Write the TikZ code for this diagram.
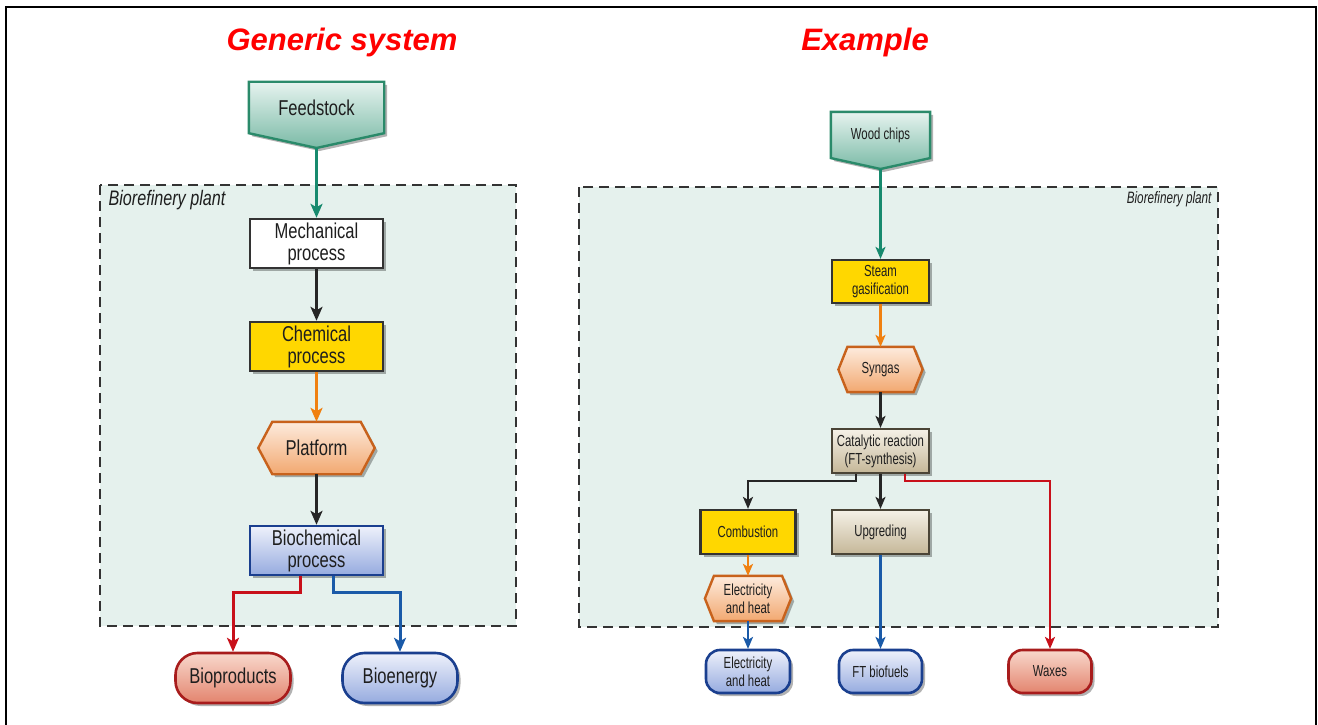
\documentclass[tikz,border=0pt]{standalone}
\usepackage{fontspec}
\newfontfamily\cond[FakeStretch=0.77]{Liberation Sans}
\newfontfamily\condS[FakeStretch=0.71]{Liberation Sans}
\newfontfamily\titlef{Liberation Sans}
\usetikzlibrary{arrows.meta,shadows,calc}
\pgfdeclarelayer{bg}
\pgfdeclarelayer{shp}
\pgfsetlayers{bg,shp,main}
\definecolor{txt}{HTML}{1E1E1E}
\definecolor{dk}{HTML}{333333}
\definecolor{plantbg}{HTML}{E5F1ED}
\definecolor{tealtop}{HTML}{E6F3EF}
\definecolor{tealbot}{HTML}{7ABAA6}
\definecolor{tealdk}{HTML}{2A8A6A}
\definecolor{garrow}{HTML}{178A6E}
\definecolor{gold}{HTML}{FFD700}
\definecolor{oarrow}{HTML}{F08010}
\definecolor{hextop}{HTML}{FDEBDD}
\definecolor{hexbot}{HTML}{F2A870}
\definecolor{hexdk}{HTML}{C8621C}
\definecolor{bluetop}{HTML}{EEF1FB}
\definecolor{bluebot}{HTML}{96ABDF}
\definecolor{bluedk}{HTML}{1A3F8F}
\definecolor{redtop}{HTML}{F8D8CC}
\definecolor{redbot}{HTML}{E3846E}
\definecolor{reddk}{HTML}{A81C1C}
\definecolor{rarrow}{HTML}{C8101A}
\definecolor{barrow}{HTML}{1A5AA8}
\definecolor{tantop}{HTML}{F5F1E7}
\definecolor{tanbot}{HTML}{C5B798}
\definecolor{tandk}{HTML}{4A4436}
\tikzset{
  big/.style={font=\cond\fontsize{21.5}{22}\selectfont, text=txt, align=center, inner sep=0pt, outer sep=1.2pt},
  small/.style={font=\condS\fontsize{16}{18}\selectfont, text=txt, align=center, inner sep=0pt, outer sep=1.1pt},
  shad/.style={drop shadow={shadow xshift=3pt,shadow yshift=-3pt,opacity=.3,fill=black}},
  whitebox/.style={fill=white, draw=dk, line width=2.4pt, shad},
  yelbox/.style={fill=gold, draw=dk, line width=2.4pt, shad},
  bluebox/.style={top color=bluetop, bottom color=bluebot, draw=bluedk, line width=2.4pt, shad},
  tanbox/.style={top color=tantop, bottom color=tanbot, draw=tandk, line width=2.4pt, shad},
  redpill/.style={top color=redtop, bottom color=redbot, draw=reddk, line width=2.6pt, shad},
  bluepill/.style={top color=bluetop, bottom color=bluebot, draw=bluedk, line width=2.6pt, shad},
  tealshape/.style={top color=tealtop, bottom color=tealbot, draw=tealdk, line width=2.4pt, shad},
  hexshape/.style={top color=hextop, bottom color=hexbot, draw=hexdk, line width=2.4pt, shad},
  plant/.style={fill=plantbg, draw=dk, line width=2.2pt, dash pattern=on 10pt off 6pt},
  arrL/.style={line width=3pt, -{Stealth[length=14pt,width=12pt,inset=3.5pt]}},
  arrR/.style={line width=2.4pt, -{Stealth[length=12pt,width=10pt,inset=3pt]}},
  title/.style={font=\titlef\bfseries\itshape\fontsize{31}{34}\selectfont, text=red}
}
\begin{document}
\begin{tikzpicture}[x=1pt,y=-1pt]
\useasboundingbox (0,0) rectangle (1318,725);
\draw[line width=2.5pt] (6,725) -- (6,7) -- (1316,7) -- (1316,725);

% titles
\node[title] (t1) at (342,42) {Generic system};
\node[title] (t2) at (865,42) {Example};

% plant areas
\begin{pgfonlayer}{bg}
\draw[plant] (100,185) rectangle (516,626);
\draw[plant] (579,187) rectangle (1218,627);
\end{pgfonlayer}
\node[font=\cond\itshape\fontsize{21}{22}\selectfont, text=txt, anchor=west] (lab1) at (105,200) {Biorefinery plant};
\node[font=\condS\itshape\fontsize{16.5}{18}\selectfont, text=txt, anchor=east] (lab2) at (1215,199) {Biorefinery plant};

% ---------------- left: generic system
\node[big, minimum width=133, minimum height=49] (feed) at (316.5,107.5) {Feedstock};
\coordinate (feedtip) at (316.5,148);
\node[big, whitebox, minimum width=133, minimum height=49] (mech) at (316.5,243.5) {Mechanical\\process};
\node[big, yelbox, minimum width=133, minimum height=49] (chem) at (316.5,346.5) {Chemical\\process};
\node[big, minimum width=114, minimum height=50] (plat) at (316.5,448) {Platform};
\node[big, bluebox, minimum width=133, minimum height=49] (bioch) at (316.5,550.5) {Biochemical\\process};
\node[big, redpill, rounded corners=22pt, minimum width=115, minimum height=50] (biop) at (233,678) {Bioproducts};
\node[big, bluepill, rounded corners=22pt, minimum width=115, minimum height=50] (bioen) at (400,678) {Bioenergy};

\begin{pgfonlayer}{shp}
\path[tealshape] (feed.north west) -- (feed.north east) -- (feed.south east) -- (feedtip) -- (feed.south west) -- cycle;
\path[hexshape] ([xshift=14pt]plat.north west) -- ([xshift=-14pt]plat.north east) -- (plat.east)
  -- ([xshift=-14pt]plat.south east) -- ([xshift=14pt]plat.south west) -- (plat.west) -- cycle;
\end{pgfonlayer}

\draw[arrL, garrow] (feedtip) -- (mech.north);
\draw[arrL, black!85] (mech.south) -- (chem.north);
\draw[arrL, oarrow] (chem.south) -- (plat.north);
\draw[arrL, black!85] (plat.south) -- (bioch.north);
\draw[arrL, rarrow] ([xshift=-16.5pt]bioch.south) -- ++(0,16) -| (biop.north);
\draw[arrL, barrow] ([xshift=16.5pt]bioch.south) -- ++(0,16) -| (bioen.north);

% ---------------- right: example
\node[small, minimum width=97, minimum height=44] (wood) at (880.5,135) {Wood chips};
\coordinate (woodtip) at (880.5,169);
\node[small, yelbox, minimum width=97, minimum height=43] (steam) at (880.5,281.5) {Steam\\gasification};
\node[small, minimum width=82, minimum height=43] (syn) at (880.5,369.5) {Syngas};
\node[small, tanbox, minimum width=97, minimum height=44] (cat) at (880.5,451) {Catalytic reaction\\(FT-synthesis)};
\node[small, yelbox, minimum width=95, minimum height=44] (comb) at (748,532) {Combustion};
\node[small, tanbox, minimum width=97, minimum height=44] (upg) at (880.5,532) {Upgreding};
\node[small, minimum width=84, minimum height=43] (elh) at (748,598.5) {Electricity\\and heat};
\node[small, bluepill, rounded corners=14pt, minimum width=84, minimum height=43] (elo) at (748,671.5) {Electricity\\and heat};
\node[small, bluepill, rounded corners=14pt, minimum width=83, minimum height=43] (ftb) at (880.5,671.5) {FT biofuels};
\node[small, redpill, rounded corners=14pt, minimum width=83, minimum height=43] (wax) at (1050,671.5) {Waxes};

\begin{pgfonlayer}{shp}
\path[tealshape] (wood.north west) -- (wood.north east) -- (wood.south east) -- (woodtip) -- (wood.south west) -- cycle;
\path[hexshape] ([xshift=9pt]syn.north west) -- ([xshift=-9pt]syn.north east) -- (syn.east)
  -- ([xshift=-9pt]syn.south east) -- ([xshift=9pt]syn.south west) -- (syn.west) -- cycle;
\path[hexshape] ([xshift=9pt]elh.north west) -- ([xshift=-9pt]elh.north east) -- (elh.east)
  -- ([xshift=-9pt]elh.south east) -- ([xshift=9pt]elh.south west) -- (elh.west) -- cycle;
\end{pgfonlayer}

\draw[arrR, garrow] (woodtip) -- (steam.north);
\draw[arrR, oarrow] (steam.south) -- (syn.north);
\draw[arrR, black!85] (syn.south) -- (cat.north);
\draw[arrR, black!85] ([xshift=-24.5pt]cat.south) -- ++(0,7) -| (comb.north);
\draw[arrR, black!85] (cat.south) -- (upg.north);
\draw[arrR, rarrow] ([xshift=24.5pt]cat.south) -- ++(0,7) -| (wax.north);
\draw[arrR, oarrow] (comb.south) -- (elh.north);
\draw[arrR, barrow] (elh.south) -- (elo.north);
\draw[arrR, barrow] (upg.south) -- (ftb.north);
\end{tikzpicture}
\end{document}
